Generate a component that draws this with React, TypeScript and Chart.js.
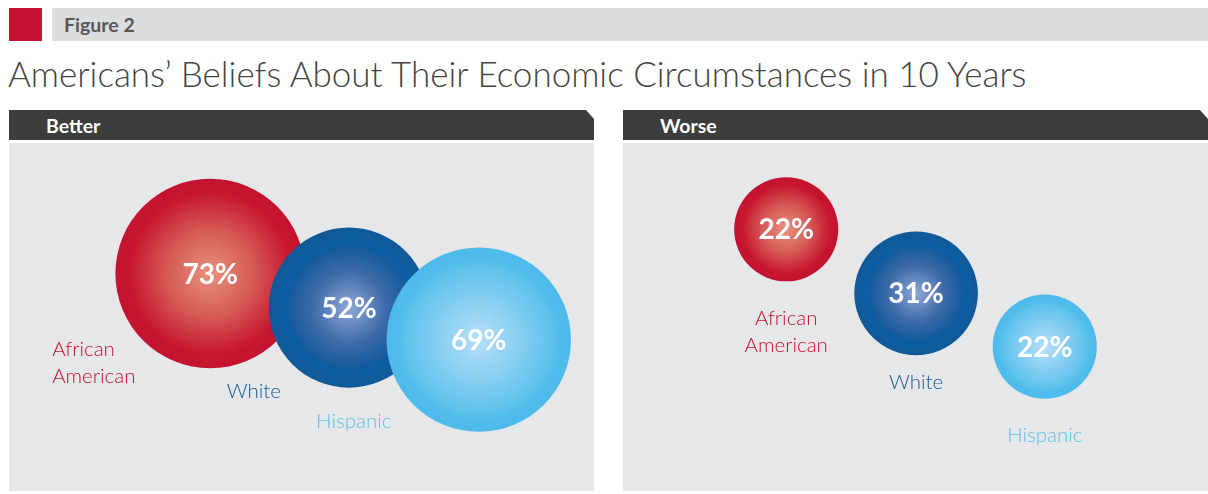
import React, { useEffect, useRef } from "react";
import { Chart, registerables } from "chart.js";
Chart.register(...registerables);

// ---- data ----
const categories = ["African American", "White", "Hispanic"];
const betterValues = [73, 52, 69];
const worseValues = [22, 31, 22];
const panelTitles = ["Better", "Worse"];
const figureLabel = "Figure 2";
const chartTitle = "Americans\u2019 Beliefs About Their Economic Circumstances in 10 Years";

// ---- layout (placement of bubbles in a 0-100 layout space) ----
const betterPlaceX = [34.4, 58.1, 80.3];
const betterPlaceY = [37.5, 47.3, 56.5];
const worsePlaceX = [27.9, 50.1, 72.1];
const worsePlaceY = [24.8, 43.2, 58.5];

type LabelPos = { dx: number; dy: number; align: CanvasTextAlign };
const betterLabelPos: LabelPos[] = [
  { dx: -158, dy: 76, align: "left" },
  { dx: -95, dy: 84, align: "center" },
  { dx: -125, dy: 82, align: "center" },
];
const worseLabelPos: LabelPos[] = [
  { dx: 0, dy: 89, align: "center" },
  { dx: 0, dy: 89, align: "center" },
  { dx: 0, dy: 89, align: "center" },
];

const labelColors = ["#c8102e", "#1b5a96", "#5cc1ec"];
const gradientStops: [number, string][][] = [
  [
    [0, "#e8927e"],
    [0.45, "#d65b56"],
    [0.85, "#c6172f"],
    [1, "#c41230"],
  ],
  [
    [0, "#8ea8d5"],
    [0.45, "#3f6ba9"],
    [0.74, "#175b9b"],
    [0.8, "#0a5ea5"],
    [0.9, "#0f5c9d"],
    [1, "#115896"],
  ],
  [
    [0, "#b6dff6"],
    [0.5, "#80ccf0"],
    [0.8, "#5ec2ed"],
    [0.86, "#52bdeb"],
    [1, "#4dbaea"],
  ],
];

const SCALE_K = 11.1; // radius factor: area proportional to value
const FONT = "Lato, 'Open Sans', 'DejaVu Sans', sans-serif";

function makeChart(
  canvas: HTMLCanvasElement,
  values: number[],
  px: number[],
  py: number[],
  labelPos: LabelPos[]
) {
  const data = values.map((v, i) => ({ x: px[i], y: py[i], r: SCALE_K * Math.sqrt(v) }));
  const labelPlugin = {
    id: "bubbleLabels",
    afterDatasetsDraw(chart: any) {
      const ctx = chart.ctx as CanvasRenderingContext2D;
      const meta = chart.getDatasetMeta(0);
      meta.data.forEach((el: any, i: number) => {
        const { x, y } = el.getProps(["x", "y"], true);
        ctx.save();
        ctx.fillStyle = "#ffffff";
        ctx.font = `bold 28px ${FONT}`;
        ctx.textAlign = "center";
        ctx.textBaseline = "middle";
        ctx.fillText(values[i] + "%", x, y + 1);
        ctx.fillStyle = labelColors[i];
        ctx.font = `300 20.5px ${FONT}`;
        const lp = labelPos[i];
        ctx.textAlign = lp.align;
        const words = categories[i].split(" ");
        words.forEach((w, j) => {
          ctx.fillText(w, x + lp.dx, y + lp.dy + j * 27);
        });
        ctx.restore();
      });
    },
  };
  return new Chart(canvas, {
    type: "bubble",
    data: {
      labels: categories,
      datasets: [
        {
          data,
          clip: false,
          borderWidth: 0,
          hoverBorderWidth: 0,
          hoverRadius: 0,
          backgroundColor: (c: any) => {
            const chart = c.chart;
            const raw = c.raw;
            const fallback = gradientStops[c.dataIndex] ? gradientStops[c.dataIndex][1][1] : "#888";
            if (!raw || !chart.scales || !chart.scales.x || !chart.scales.y) return fallback;
            const cx = chart.scales.x.getPixelForValue(raw.x);
            const cy = chart.scales.y.getPixelForValue(raw.y);
            if (!Number.isFinite(cx) || !Number.isFinite(cy) || !Number.isFinite(raw.r)) return fallback;
            const g = chart.ctx.createRadialGradient(cx, cy, 0, cx, cy, raw.r);
            gradientStops[c.dataIndex].forEach(([o, col]) => g.addColorStop(o, col));
            return g;
          },
        },
      ],
    },
    options: {
      animation: false,
      responsive: false,
      devicePixelRatio: 1,
      layout: { padding: 0, autoPadding: false },
      plugins: { legend: { display: false }, tooltip: { enabled: false } },
      events: [],
      scales: {
        x: { type: "linear", min: 0, max: 100, display: false },
        y: { type: "linear", min: 0, max: 100, reverse: true, display: false },
      },
    } as any,
    plugins: [labelPlugin],
  });
}

function Panel({
  left,
  title,
  values,
  px,
  py,
  labelPos,
}: {
  left: number;
  title: string;
  values: number[];
  px: number[];
  py: number[];
  labelPos: LabelPos[];
}) {
  const ref = useRef<HTMLCanvasElement>(null);
  useEffect(() => {
    if (!ref.current) return;
    const ch = makeChart(ref.current, values, px, py, labelPos);
    return () => ch.destroy();
  }, []);
  return (
    <>
      <div
        style={{
          position: "absolute",
          left,
          top: 110,
          width: 585,
          height: 30,
          background: "#3d3d3d",
          clipPath: "polygon(0 0, 577px 0, 585px 9px, 585px 30px, 0 30px)",
        }}
      >
        <div
          style={{
            position: "absolute",
            left: 37,
            top: 4,
            color: "#ffffff",
            font: `bold 19.5px ${FONT}`,
          }}
        >
          {title}
        </div>
      </div>
      <div
        style={{
          position: "absolute",
          left,
          top: 143,
          width: 585,
          height: 348,
          background: "#e6e7e9",
        }}
      >
        <canvas ref={ref} width={585} height={348} style={{ display: "block" }} />
      </div>
    </>
  );
}

export default function App() {
  return (
    <div
      style={{
        position: "fixed",
        left: 0,
        top: 0,
        width: 1208,
        height: 494,
        background: "#ffffff",
        overflow: "hidden",
      }}
    >
      <div style={{ position: "absolute", left: 9, top: 8, width: 33, height: 33, background: "#c41230" }} />
      <div style={{ position: "absolute", left: 52, top: 8, width: 1156, height: 33, background: "#dcdddf" }}>
        <div
          style={{
            position: "absolute",
            left: 12,
            top: 5,
            color: "#58595b",
            font: `bold 19.5px ${FONT}`,
          }}
        >
          {figureLabel}
        </div>
      </div>
      <div
        style={{
          position: "absolute",
          left: 8,
          top: 52,
          color: "#444444",
          font: `300 35px ${FONT}`,
          whiteSpace: "nowrap",
        }}
      >
        {chartTitle}
      </div>
      <Panel left={9} title={panelTitles[0]} values={betterValues} px={betterPlaceX} py={betterPlaceY} labelPos={betterLabelPos} />
      <Panel left={623} title={panelTitles[1]} values={worseValues} px={worsePlaceX} py={worsePlaceY} labelPos={worseLabelPos} />
    </div>
  );
}
